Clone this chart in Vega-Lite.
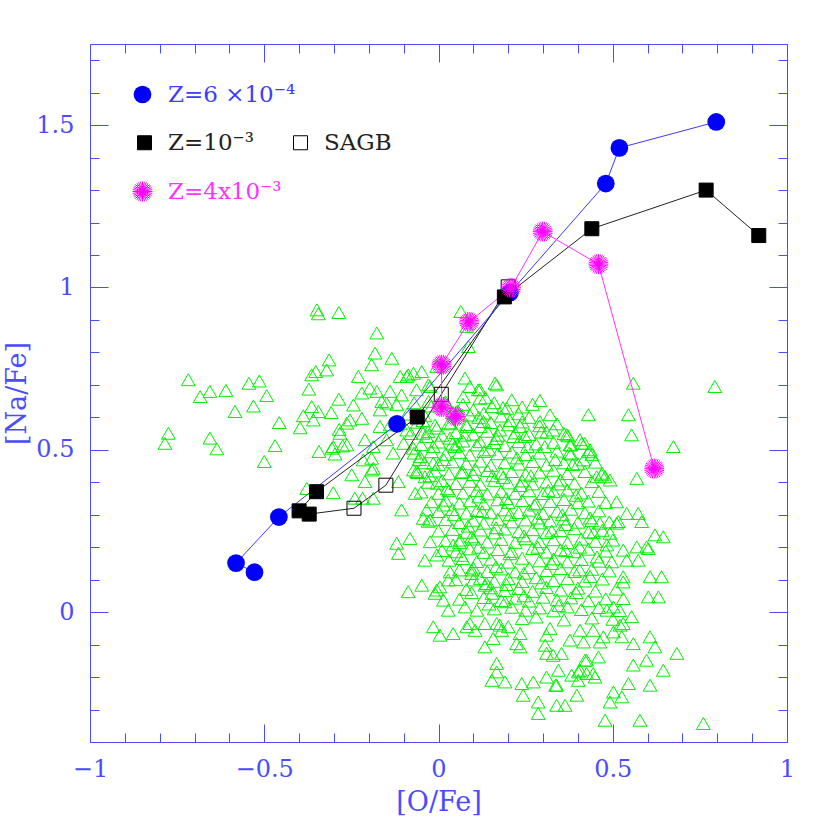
{
"$schema": "https://vega.github.io/schema/vega-lite/v6.json",
"width": 697, "height": 698,
"autosize": {"type": "none"},
"padding": {"left": 90, "top": 44, "right": 43, "bottom": 88},
"background": "white",
"config": {
 "view": {"stroke": null},
 "axis": {"grid": false, "domainColor": "#4b4bff", "tickColor": "#4b4bff", "labelColor": "#4b4bff", "titleColor": "#4b4bff", "labelFont": "DejaVu Serif", "titleFont": "DejaVu Serif", "labelFontSize": 24, "titleFontSize": 27, "titleFontWeight": "normal", "labelFontWeight": "normal", "tickWidth": 1, "domainWidth": 1, "labelFlush": false, "labelOverlap": false}
},
"datasets": {
"obs": [
{"x":-0.349,"y":0.931},{"x":-0.345,"y":0.919},{"x":-0.286,"y":0.923},{"x":-0.314,"y":0.777},{"x":-0.321,"y":0.746},{"x":-0.352,"y":0.741},{"x":-0.364,"y":0.731},{"x":-0.718,"y":0.716},{"x":-0.656,"y":0.68},{"x":-0.684,"y":0.664},{"x":-0.61,"y":0.683},{"x":-0.544,"y":0.705},{"x":-0.514,"y":0.712},{"x":-0.493,"y":0.667},{"x":-0.531,"y":0.635},{"x":-0.584,"y":0.618},{"x":-0.372,"y":0.687},{"x":-0.286,"y":0.656},{"x":-0.364,"y":0.633},{"x":-0.345,"y":0.618},{"x":-0.388,"y":0.605},{"x":-0.359,"y":0.592},{"x":-0.308,"y":0.615},{"x":-0.457,"y":0.584},{"x":-0.397,"y":0.568},{"x":-0.285,"y":0.563},{"x":-0.263,"y":0.582},{"x":-0.775,"y":0.551},{"x":-0.785,"y":0.52},{"x":-0.656,"y":0.536},{"x":-0.636,"y":0.503},{"x":-0.469,"y":0.513},{"x":-0.5,"y":0.464},{"x":-0.343,"y":0.495},{"x":-0.306,"y":0.505},{"x":-0.297,"y":0.487},{"x":-0.275,"y":0.512},
{"x":-0.378,"y":0.381},{"x":-0.302,"y":0.368},{"x":-0.24,"y":0.351},{"x":-0.218,"y":0.351},{"x":-0.249,"y":0.423},{"x":-0.211,"y":0.402},{"x":-0.187,"y":0.443},{"x":-0.177,"y":0.86},{"x":-0.182,"y":0.798},{"x":-0.134,"y":0.782},{"x":-0.192,"y":0.762},{"x":-0.23,"y":0.726},{"x":-0.197,"y":0.69},{"x":-0.177,"y":0.68},{"x":-0.22,"y":0.675},{"x":-0.139,"y":0.68},{"x":-0.106,"y":0.669},{"x":-0.091,"y":0.726},{"x":-0.048,"y":0.741},{"x":-0.244,"y":0.638},{"x":-0.254,"y":0.592},{"x":-0.22,"y":0.597},{"x":-0.168,"y":0.572},{"x":-0.139,"y":0.577},{"x":-0.283,"y":0.551},{"x":-0.302,"y":0.51},{"x":-0.263,"y":0.515},{"x":-0.211,"y":0.531},{"x":-0.187,"y":0.51},{"x":-0.149,"y":0.531},{"x":-0.216,"y":0.469},{"x":-0.192,"y":0.474},{"x":-0.13,"y":0.49},{"x":-0.067,"y":0.366},{"x":-0.106,"y":0.315},{"x":-0.034,"y":0.315},{"x":-0.024,"y":0.284},{"x":-0.12,"y":0.212},{"x":-0.082,"y":0.227},{"x":-0.115,"y":0.181},{"x":-0.024,"y":0.217},{"x":-0.039,"y":0.16},{"x":-0.087,"y":0.063},{"x":-0.048,"y":0.083},{"x":-0.01,"y":0.058},{"x":-0.072,"y":0.438},{"x":-0.053,"y":0.479},{"x":-0.015,"y":0.459},{"x":-0.039,"y":0.417},{"x":-0.005,"y":0.397},{"x":-0.091,"y":0.561},{"x":-0.034,"y":0.541},{"x":-0.072,"y":0.505},{"x":-0.168,"y":0.623},{"x":-0.149,"y":0.644},{"x":-0.11,"y":0.726},{"x":-0.072,"y":0.736},{"x":-0.029,"y":0.7},{"x":-0.005,"y":0.757},
{"x":0.064,"y":0.926},{"x":0.081,"y":0.88},{"x":0.086,"y":0.818},{"x":-0.087,"y":0.731},{"x":0.076,"y":0.721},{"x":0.162,"y":0.705},{"x":0.119,"y":0.685},{"x":0.21,"y":0.654},{"x":-0.024,"y":0.695},{"x":-0.063,"y":0.685},{"x":-0.163,"y":0.649},{"x":-0.029,"y":0.649},{"x":0.071,"y":0.664},{"x":0.119,"y":0.659},{"x":0.153,"y":0.633},{"x":0.196,"y":0.628},{"x":0.234,"y":0.572},{"x":0.1,"y":0.623},{"x":0.129,"y":0.587},{"x":0.176,"y":0.561},{"x":0.081,"y":0.572},{"x":-0.005,"y":0.567},{"x":-0.044,"y":0.551},{"x":0.033,"y":0.536},{"x":0.119,"y":0.525},{"x":0.215,"y":0.541},{"x":0.248,"y":0.541},{"x":0.047,"y":0.51},
{"x":0.793,"y":0.695},{"x":0.559,"y":0.705},{"x":0.545,"y":0.608},{"x":0.554,"y":0.546},{"x":0.674,"y":0.51},{"x":0.569,"y":0.412},{"x":0.43,"y":0.608},{"x":0.291,"y":0.652},{"x":0.167,"y":0.7},{"x":0.09,"y":0.695},{"x":0.114,"y":0.685},{"x":0.368,"y":0.546},{"x":0.406,"y":0.531},{"x":0.435,"y":0.5},{"x":0.492,"y":0.407},{"x":0.468,"y":0.423},{"x":0.54,"y":0.304},{"x":0.573,"y":0.304},{"x":0.583,"y":0.279},{"x":0.511,"y":0.274},{"x":0.621,"y":0.238},{"x":0.645,"y":0.232},{"x":0.602,"y":0.196},{"x":0.573,"y":0.16},{"x":0.54,"y":0.16},{"x":0.497,"y":0.155},{"x":0.607,"y":0.109},{"x":0.64,"y":0.109},{"x":0.53,"y":0.109},{"x":0.602,"y":0.047},{"x":0.631,"y":0.047},{"x":0.53,"y":0.042},{"x":0.554,"y":-0.014},{"x":0.521,"y":-0.04},{"x":0.607,"y":-0.076},{"x":0.621,"y":-0.107},{"x":0.684,"y":-0.127},{"x":0.559,"y":-0.097},{"x":0.597,"y":-0.148},{"x":0.645,"y":-0.179},{"x":0.559,"y":-0.163},{"x":0.607,"y":-0.225},{"x":0.545,"y":-0.22},{"x":0.502,"y":-0.246},{"x":0.526,"y":-0.261},{"x":0.492,"y":-0.277},{"x":0.578,"y":-0.333},{"x":0.478,"y":-0.333},{"x":0.76,"y":-0.343},{"x":0.397,"y":-0.256},{"x":0.339,"y":-0.287},{"x":0.363,"y":-0.287},{"x":0.286,"y":-0.312},{"x":0.286,"y":-0.277},{"x":0.339,"y":-0.225},{"x":0.243,"y":-0.256},{"x":0.239,"y":-0.22},{"x":0.272,"y":-0.215},{"x":0.191,"y":-0.215},{"x":0.153,"y":-0.21},{"x":0.167,"y":-0.158},{"x":0.31,"y":-0.2},{"x":0.344,"y":-0.179},{"x":0.401,"y":-0.184},{"x":0.425,"y":-0.189},{"x":0.444,"y":-0.189},{"x":0.133,"y":-0.107},{"x":0.234,"y":-0.107},{"x":0.31,"y":-0.127},{"x":0.353,"y":-0.127},{"x":0.42,"y":-0.148},{"x":0.459,"y":-0.138},{"x":0.473,"y":-0.076},{"x":-0.015,"y":-0.045},{"x":0.004,"y":-0.071},{"x":0.042,"y":-0.066},{"x":0.081,"y":-0.045},{"x":0.105,"y":-0.056},{"x":0.176,"y":-0.04},{"x":0.2,"y":-0.045},{"x":0.028,"y":0.006},{"x":0.076,"y":0.016},{"x":0.11,"y":0.006},{"x":-0.005,"y":0.068},{"x":0.028,"y":0.099},{"x":0.095,"y":0.119},{"x":0.133,"y":0.083},{"x":0.153,"y":0.058},{"x":0.191,"y":0.032},{"x":-0.005,"y":0.176},{"x":0.042,"y":0.207},
{"x":0.224,"y":-0.097},{"x":0.306,"y":-0.102},{"x":0.329,"y":-0.133},{"x":0.167,"y":-0.184},{"x":0.336,"y":-0.225},{"x":0.382,"y":-0.194},{"x":0.406,"y":-0.179},{"x":0.449,"y":-0.2},{"x":0.401,"y":-0.21},{"x":0.014,"y":0.037},{"x":0.09,"y":-0.035},{"x":0.133,"y":-0.035},{"x":0.167,"y":-0.035},{"x":0.157,"y":-0.081},{"x":0.181,"y":-0.056},{"x":0.234,"y":-0.066},{"x":0.31,"y":-0.071},{"x":0.32,"y":-0.05},{"x":0.377,"y":-0.086},{"x":0.416,"y":-0.092},{"x":0.406,"y":-0.056},{"x":0.444,"y":-0.056},{"x":0.463,"y":-0.092},{"x":0.425,"y":-0.148},{"x":0.53,"y":-0.035},{"x":0.526,"y":-0.076},{"x":0.502,"y":-0.061},{"x":0.502,"y":0.016},{"x":0.483,"y":0.006},{"x":0.53,"y":0.093},
{"x":-0.192,"y":0.438},{"x":-0.187,"y":0.351},{"x":-0.115,"y":0.402},{"x":0.062,"y":0.222},{"x":0.095,"y":0.232},{"x":-0.044,"y":0.289},{"x":-0.063,"y":0.433},{"x":0.004,"y":0.078},{"x":0.033,"y":0.124},{"x":0.095,"y":0.13},{"x":0.1,"y":0.099},{"x":0.138,"y":0.088},
{"x":0.372,"y":0.543},{"x":0.411,"y":0.52},{"x":0.43,"y":0.494},{"x":0.291,"y":0.587},{"x":0.478,"y":0.417},{"x":0.454,"y":0.417},{"x":0.511,"y":0.34},{"x":0.516,"y":0.279},{"x":0.597,"y":0.201},{"x":0.569,"y":0.201},{"x":0.483,"y":0.207},{"x":0.492,"y":0.243},{"x":0.463,"y":0.274},{"x":0.329,"y":0.561},{"x":0.377,"y":0.515},{"x":0.416,"y":0.469},
{"x":-0.12,"y":0.64},{"x":-0.07,"y":0.645},{"x":-0.02,"y":0.635},{"x":0.02,"y":0.648},{"x":0.07,"y":0.64},{"x":0.16,"y":0.645},{"x":0.24,"y":0.632},{"x":0.27,"y":0.64},
{"x":-0.09,"y":0.61},{"x":-0.04,"y":0.605},{"x":0.04,"y":0.615},{"x":0.09,"y":0.607},{"x":0.13,"y":0.613},{"x":0.18,"y":0.604},{"x":0.23,"y":0.611},{"x":0.26,"y":0.6},{"x":0.32,"y":0.608},
{"x":-0.11,"y":0.58},{"x":-0.06,"y":0.585},{"x":-0.01,"y":0.576},{"x":0.03,"y":0.583},{"x":0.08,"y":0.578},{"x":0.12,"y":0.572},{"x":0.15,"y":0.584},{"x":0.2,"y":0.577},{"x":0.24,"y":0.586},{"x":0.29,"y":0.574},{"x":0.34,"y":0.58},
{"x":-0.08,"y":0.55},{"x":-0.03,"y":0.556},{"x":0.01,"y":0.545},{"x":0.05,"y":0.553},{"x":0.1,"y":0.548},{"x":0.14,"y":0.557},{"x":0.17,"y":0.545},{"x":0.22,"y":0.552},{"x":0.26,"y":0.547},{"x":0.31,"y":0.554},{"x":0.36,"y":0.55},
{"x":-0.1,"y":0.52},{"x":-0.05,"y":0.516},{"x":0.0,"y":0.524},{"x":0.04,"y":0.518},{"x":0.07,"y":0.527},{"x":0.11,"y":0.515},{"x":0.16,"y":0.522},{"x":0.19,"y":0.513},{"x":0.23,"y":0.525},{"x":0.28,"y":0.518},{"x":0.33,"y":0.523},{"x":0.38,"y":0.515},{"x":0.42,"y":0.52},
{"x":-0.07,"y":0.49},{"x":-0.02,"y":0.494},{"x":0.02,"y":0.486},{"x":0.06,"y":0.492},{"x":0.09,"y":0.484},{"x":0.13,"y":0.495},{"x":0.17,"y":0.488},{"x":0.21,"y":0.493},{"x":0.25,"y":0.485},{"x":0.29,"y":0.49},{"x":0.34,"y":0.496},{"x":0.38,"y":0.487},{"x":0.44,"y":0.485},
{"x":-0.04,"y":0.46},{"x":0.0,"y":0.455},{"x":0.04,"y":0.463},{"x":0.08,"y":0.457},{"x":0.12,"y":0.465},{"x":0.15,"y":0.452},{"x":0.19,"y":0.46},{"x":0.23,"y":0.456},{"x":0.27,"y":0.464},{"x":0.31,"y":0.453},{"x":0.36,"y":0.46},{"x":0.4,"y":0.457},{"x":0.45,"y":0.462},
{"x":-0.06,"y":0.43},{"x":-0.01,"y":0.435},{"x":0.03,"y":0.426},{"x":0.07,"y":0.432},{"x":0.1,"y":0.424},{"x":0.14,"y":0.436},{"x":0.18,"y":0.428},{"x":0.21,"y":0.433},{"x":0.25,"y":0.425},{"x":0.29,"y":0.431},{"x":0.33,"y":0.437},{"x":0.37,"y":0.427},{"x":0.42,"y":0.433},{"x":0.47,"y":0.428},
{"x":-0.03,"y":0.4},{"x":0.01,"y":0.405},{"x":0.05,"y":0.396},{"x":0.09,"y":0.403},{"x":0.12,"y":0.394},{"x":0.16,"y":0.406},{"x":0.2,"y":0.398},{"x":0.24,"y":0.404},{"x":0.27,"y":0.395},{"x":0.31,"y":0.401},{"x":0.35,"y":0.407},{"x":0.39,"y":0.397},{"x":0.44,"y":0.402},
{"x":-0.05,"y":0.37},{"x":0.0,"y":0.366},{"x":0.03,"y":0.374},{"x":0.07,"y":0.367},{"x":0.11,"y":0.375},{"x":0.14,"y":0.364},{"x":0.18,"y":0.372},{"x":0.22,"y":0.366},{"x":0.26,"y":0.374},{"x":0.3,"y":0.365},{"x":0.33,"y":0.371},{"x":0.37,"y":0.376},{"x":0.41,"y":0.367},{"x":0.46,"y":0.372},
{"x":-0.02,"y":0.34},{"x":0.02,"y":0.345},{"x":0.06,"y":0.336},{"x":0.09,"y":0.343},{"x":0.13,"y":0.334},{"x":0.17,"y":0.346},{"x":0.2,"y":0.338},{"x":0.24,"y":0.344},{"x":0.28,"y":0.335},{"x":0.32,"y":0.341},{"x":0.36,"y":0.347},{"x":0.4,"y":0.337},{"x":0.43,"y":0.342},{"x":0.48,"y":0.338},
{"x":0.0,"y":0.31},{"x":0.04,"y":0.316},{"x":0.08,"y":0.305},{"x":0.11,"y":0.313},{"x":0.15,"y":0.306},{"x":0.19,"y":0.315},{"x":0.23,"y":0.307},{"x":0.26,"y":0.314},{"x":0.3,"y":0.304},{"x":0.34,"y":0.311},{"x":0.38,"y":0.317},{"x":0.42,"y":0.306},{"x":0.46,"y":0.312},
{"x":-0.03,"y":0.28},{"x":0.02,"y":0.285},{"x":0.06,"y":0.276},{"x":0.1,"y":0.283},{"x":0.13,"y":0.274},{"x":0.17,"y":0.286},{"x":0.21,"y":0.278},{"x":0.25,"y":0.284},{"x":0.29,"y":0.275},{"x":0.32,"y":0.281},{"x":0.36,"y":0.287},{"x":0.4,"y":0.277},{"x":0.44,"y":0.282},{"x":0.49,"y":0.278},
{"x":0.0,"y":0.25},{"x":0.04,"y":0.255},{"x":0.08,"y":0.246},{"x":0.12,"y":0.253},{"x":0.16,"y":0.244},{"x":0.19,"y":0.256},{"x":0.23,"y":0.248},{"x":0.27,"y":0.254},{"x":0.31,"y":0.245},{"x":0.35,"y":0.251},{"x":0.39,"y":0.257},{"x":0.43,"y":0.247},{"x":0.47,"y":0.252},
{"x":0.02,"y":0.22},{"x":0.06,"y":0.214},{"x":0.1,"y":0.225},{"x":0.14,"y":0.216},{"x":0.18,"y":0.224},{"x":0.22,"y":0.215},{"x":0.25,"y":0.226},{"x":0.29,"y":0.217},{"x":0.33,"y":0.223},{"x":0.37,"y":0.214},{"x":0.41,"y":0.225},{"x":0.45,"y":0.218},{"x":0.5,"y":0.222},
{"x":0.01,"y":0.19},{"x":0.05,"y":0.186},{"x":0.09,"y":0.195},{"x":0.13,"y":0.184},{"x":0.17,"y":0.193},{"x":0.21,"y":0.187},{"x":0.27,"y":0.196},{"x":0.31,"y":0.185},{"x":0.35,"y":0.192},{"x":0.39,"y":0.186},{"x":0.43,"y":0.194},{"x":0.48,"y":0.188},{"x":0.53,"y":0.191},
{"x":0.03,"y":0.16},{"x":0.07,"y":0.165},{"x":0.11,"y":0.156},{"x":0.15,"y":0.163},{"x":0.2,"y":0.154},{"x":0.24,"y":0.166},{"x":0.29,"y":0.158},{"x":0.33,"y":0.164},{"x":0.37,"y":0.155},{"x":0.41,"y":0.162},{"x":0.46,"y":0.157},
{"x":0.06,"y":0.13},{"x":0.1,"y":0.136},{"x":0.14,"y":0.125},{"x":0.18,"y":0.133},{"x":0.22,"y":0.124},{"x":0.26,"y":0.137},{"x":0.31,"y":0.128},{"x":0.35,"y":0.134},{"x":0.39,"y":0.125},{"x":0.44,"y":0.132},{"x":0.49,"y":0.127},
{"x":0.05,"y":0.1},{"x":0.12,"y":0.104},{"x":0.16,"y":0.095},{"x":0.2,"y":0.103},{"x":0.24,"y":0.094},{"x":0.28,"y":0.106},{"x":0.33,"y":0.097},{"x":0.37,"y":0.103},{"x":0.42,"y":0.096},{"x":0.47,"y":0.102},
{"x":0.08,"y":0.07},{"x":0.15,"y":0.075},{"x":0.19,"y":0.066},{"x":0.23,"y":0.073},{"x":0.27,"y":0.064},{"x":0.31,"y":0.076},{"x":0.35,"y":0.068},{"x":0.4,"y":0.074},{"x":0.45,"y":0.065},{"x":0.51,"y":0.071},
{"x":0.06,"y":0.04},{"x":0.13,"y":0.045},{"x":0.18,"y":0.036},{"x":0.22,"y":0.043},{"x":0.26,"y":0.034},{"x":0.3,"y":0.046},{"x":0.34,"y":0.038},{"x":0.38,"y":0.044},{"x":0.43,"y":0.035},{"x":0.48,"y":0.041},
{"x":0.16,"y":0.01},{"x":0.21,"y":0.015},{"x":0.25,"y":0.006},{"x":0.29,"y":0.013},{"x":0.33,"y":0.004},{"x":0.37,"y":0.016},{"x":0.41,"y":0.008},{"x":0.46,"y":0.014},{"x":0.52,"y":0.005},
{"x":0.24,"y":-0.02},{"x":0.28,"y":-0.015},{"x":0.36,"y":-0.024},{"x":0.44,"y":-0.018},{"x":0.5,"y":-0.022},
{"x":0.015,"y":0.47},{"x":0.055,"y":0.515},{"x":0.105,"y":0.44},{"x":0.145,"y":0.5},{"x":0.185,"y":0.415},{"x":0.225,"y":0.475},{"x":0.265,"y":0.42},{"x":0.305,"y":0.51},{"x":0.345,"y":0.395},{"x":0.385,"y":0.455},
{"x":0.025,"y":0.38},{"x":0.065,"y":0.43},{"x":0.115,"y":0.355},{"x":0.155,"y":0.42},{"x":0.195,"y":0.35},{"x":0.235,"y":0.39},{"x":0.275,"y":0.33},{"x":0.315,"y":0.375},{"x":0.355,"y":0.3},{"x":0.395,"y":0.36},{"x":0.435,"y":0.29},
{"x":0.045,"y":0.3},{"x":0.085,"y":0.265},{"x":0.125,"y":0.31},{"x":0.165,"y":0.26},{"x":0.205,"y":0.3},{"x":0.245,"y":0.235},{"x":0.285,"y":0.29},{"x":0.325,"y":0.25},{"x":0.365,"y":0.27},{"x":0.405,"y":0.2},{"x":0.445,"y":0.245},
{"x":0.035,"y":0.58},{"x":0.075,"y":0.545},{"x":0.115,"y":0.6},{"x":0.165,"y":0.535},{"x":0.205,"y":0.59},{"x":0.255,"y":0.51},{"x":0.295,"y":0.555},{"x":0.335,"y":0.47},{"x":0.375,"y":0.49},
{"x":0.065,"y":0.175},{"x":0.115,"y":0.2},{"x":0.165,"y":0.14},{"x":0.205,"y":0.18},{"x":0.245,"y":0.12},{"x":0.285,"y":0.2},{"x":0.325,"y":0.15},{"x":0.365,"y":0.19},{"x":0.405,"y":0.13},{"x":0.455,"y":0.17},
{"x":0.095,"y":0.06},{"x":0.145,"y":0.025},{"x":0.195,"y":0.085},{"x":0.245,"y":0.05},{"x":0.295,"y":0.09},{"x":0.345,"y":0.02},{"x":0.395,"y":0.06},{"x":0.435,"y":0.11},
{"x":-0.015,"y":0.51},{"x":-0.055,"y":0.47},{"x":-0.025,"y":0.42},{"x":0.015,"y":0.33},{"x":-0.045,"y":0.59},{"x":0.055,"y":0.62},{"x":0.135,"y":0.66},{"x":0.185,"y":0.63}
],
"models": [
{"s":"Z=6 ×10⁻⁴","g":"b","i":1,"x":-0.528,"y":0.123},{"s":"Z=6 ×10⁻⁴","g":"b","i":2,"x":-0.581,"y":0.151},{"s":"Z=6 ×10⁻⁴","g":"b","i":3,"x":-0.458,"y":0.293},{"s":"Z=6 ×10⁻⁴","g":"b","i":4,"x":-0.119,"y":0.58},{"s":"Z=6 ×10⁻⁴","g":"b","i":5,"x":0.205,"y":0.984},{"s":"Z=6 ×10⁻⁴","g":"b","i":6,"x":0.48,"y":1.32},{"s":"Z=6 ×10⁻⁴","g":"b","i":7,"x":0.519,"y":1.43},{"s":"Z=6 ×10⁻⁴","g":"b","i":8,"x":0.797,"y":1.51},
{"s":"Z=10⁻³","g":"k","i":1,"x":-0.371,"y":0.302},{"s":"Z=10⁻³","g":"k","i":2,"x":-0.4,"y":0.312},{"s":"Z=10⁻³","g":"k","i":3,"x":-0.35,"y":0.371},{"s":"Z=10⁻³","g":"k","i":4,"x":-0.061,"y":0.601},{"s":"Z=10⁻³","g":"k","i":5,"x":0.189,"y":0.971},{"s":"Z=10⁻³","g":"k","i":6,"x":0.44,"y":1.181},{"s":"Z=10⁻³","g":"k","i":7,"x":0.768,"y":1.3},{"s":"Z=10⁻³","g":"k","i":8,"x":0.919,"y":1.16},
{"s":"link","g":"sagb","i":0,"x":-0.371,"y":0.302},{"s":"SAGB","g":"sagb","i":1,"x":-0.2425,"y":0.32},{"s":"SAGB","g":"sagb","i":2,"x":-0.151,"y":0.391},{"s":"SAGB","g":"sagb","i":3,"x":0.008,"y":0.671},{"s":"SAGB","g":"sagb","i":4,"x":0.2,"y":1.002},
{"s":"Z=4x10⁻³","g":"m","i":1,"x":0.049,"y":0.603},{"s":"Z=4x10⁻³","g":"m","i":2,"x":0.009,"y":0.632},{"s":"Z=4x10⁻³","g":"m","i":3,"x":0.009,"y":0.762},{"s":"Z=4x10⁻³","g":"m","i":4,"x":0.088,"y":0.894},{"s":"Z=4x10⁻³","g":"m","i":5,"x":0.208,"y":0.999},{"s":"Z=4x10⁻³","g":"m","i":6,"x":0.299,"y":1.172},{"s":"Z=4x10⁻³","g":"m","i":7,"x":0.459,"y":1.072},{"s":"Z=4x10⁻³","g":"m","i":8,"x":0.619,"y":0.442}
]
},
"layer": [
{"data": {"name": "obs"},
 "mark": {"type": "point", "shape": "triangle-up", "filled": false, "stroke": "#00f000", "strokeWidth": 1, "size": 190, "opacity": 1},
 "encoding": {
  "x": {"field": "x", "type": "quantitative", "scale": {"domain": [-1, 1], "nice": false, "zero": false}, "axis": {"orient": "bottom", "values": [-1, -0.5, 0, 0.5, 1], "tickSize": -18, "labelPadding": 33, "labelExpr": "datum.value < 0 ? '−' + format(-datum.value, '~g') : format(datum.value, '~g')", "title": "[O/Fe]", "titlePadding": 8}},
  "y": {"field": "y", "type": "quantitative", "scale": {"domain": [-0.4, 1.75], "nice": false, "zero": false}, "axis": {"orient": "left", "values": [0, 0.5, 1, 1.5], "tickSize": -18, "labelPadding": 34, "labelExpr": "datum.value < 0 ? '−' + format(-datum.value, '~g') : format(datum.value, '~g')", "title": "[Na/Fe]", "titlePadding": 4}}
 }},
{"data": {"name": "models"},
 "transform": [{"filter": "datum.g === 'k' || datum.g === 'sagb'"}],
 "mark": {"type": "line", "color": "#222222", "strokeWidth": 1},
 "encoding": {
  "x": {"field": "x", "type": "quantitative", "scale": {"domain": [-1, 1], "nice": false, "zero": false}, "axis": {"orient": "bottom", "values": [-0.9, -0.8, -0.7, -0.6, -0.4, -0.3, -0.2, -0.1, 0.1, 0.2, 0.3, 0.4, 0.6, 0.7, 0.8, 0.9], "tickSize": -9, "labels": false, "domain": false, "title": null}},
  "y": {"field": "y", "type": "quantitative", "scale": {"domain": [-0.4, 1.75], "nice": false, "zero": false}, "axis": {"orient": "left", "values": [-0.3, -0.2, -0.1, 0.1, 0.2, 0.3, 0.4, 0.6, 0.7, 0.8, 0.9, 1.1, 1.2, 1.3, 1.4, 1.6, 1.7], "tickSize": -9, "labels": false, "domain": false, "title": null}},
  "detail": {"field": "g"},
  "order": {"field": "i", "type": "quantitative"}
 }},
{"data": {"name": "models"},
 "transform": [{"filter": "datum.g === 'b'"}],
 "mark": {"type": "line", "color": "#3a3aff", "strokeWidth": 1},
 "encoding": {
  "x": {"field": "x", "type": "quantitative", "scale": {"domain": [-1, 1], "nice": false, "zero": false}, "axis": {"orient": "top", "values": [-1, -0.5, 0, 0.5, 1], "tickSize": -18, "labels": false, "title": null}},
  "y": {"field": "y", "type": "quantitative", "scale": {"domain": [-0.4, 1.75], "nice": false, "zero": false}, "axis": {"orient": "right", "values": [0, 0.5, 1, 1.5], "tickSize": -18, "labels": false, "title": null}},
  "order": {"field": "i", "type": "quantitative"}
 }},
{"data": {"name": "models"},
 "transform": [{"filter": "datum.g === 'm'"}],
 "mark": {"type": "line", "color": "#ff33ff", "strokeWidth": 1},
 "encoding": {
  "x": {"field": "x", "type": "quantitative", "scale": {"domain": [-1, 1], "nice": false, "zero": false}, "axis": {"orient": "top", "values": [-0.9, -0.8, -0.7, -0.6, -0.4, -0.3, -0.2, -0.1, 0.1, 0.2, 0.3, 0.4, 0.6, 0.7, 0.8, 0.9], "tickSize": -9, "labels": false, "domain": false, "title": null}},
  "y": {"field": "y", "type": "quantitative", "scale": {"domain": [-0.4, 1.75], "nice": false, "zero": false}, "axis": {"orient": "right", "values": [-0.3, -0.2, -0.1, 0.1, 0.2, 0.3, 0.4, 0.6, 0.7, 0.8, 0.9, 1.1, 1.2, 1.3, 1.4, 1.6, 1.7], "tickSize": -9, "labels": false, "domain": false, "title": null}},
  "order": {"field": "i", "type": "quantitative"}
 }},
{"data": {"name": "models"},
 "transform": [{"filter": "datum.g === 'b'"}],
 "mark": {"type": "point", "shape": "circle", "filled": true, "size": 314, "opacity": 1},
 "encoding": {
  "x": {"field": "x", "type": "quantitative", "axis": null},
  "y": {"field": "y", "type": "quantitative", "axis": null},
  "color": {"field": "s", "type": "nominal", "scale": {"domain": ["Z=6 ×10⁻⁴"], "range": ["#0000ff"]}, "legend": {"title": null, "orient": "none", "legendX": 41, "legendY": 39, "padding": 0, "symbolType": "circle", "symbolSize": 314, "labelColor": "#3c3cff", "labelFont": "DejaVu Serif", "labelFontSize": 23, "labelOffset": 14}}
 }},
{"data": {"name": "models"},
 "transform": [{"filter": "datum.s === 'Z=10⁻³' || datum.s === 'SAGB'"}],
 "mark": {"type": "point", "shape": "square", "filled": true, "stroke": "#000000", "strokeWidth": 1, "size": 196, "opacity": 1},
 "encoding": {
  "x": {"field": "x", "type": "quantitative", "axis": null},
  "y": {"field": "y", "type": "quantitative", "axis": null},
  "fill": {"field": "s", "type": "nominal", "scale": {"domain": ["Z=10⁻³", "SAGB"], "range": ["#000000", "transparent"]}, "legend": {"title": null, "orient": "none", "legendX": 43, "legendY": 87, "padding": 0, "direction": "horizontal", "columns": 2, "columnPadding": 35, "symbolType": "square", "symbolSize": 196, "symbolStrokeColor": "#000000", "symbolStrokeWidth": 1, "labelColor": "#222222", "labelFont": "DejaVu Serif", "labelFontSize": 23, "labelOffset": 12}}
 }},
{"data": {"name": "models"},
 "transform": [{"filter": "datum.g === 'm'"}],
 "mark": {"type": "point", "shape": "M1,0L-1,0M0.981,0.195L-0.981,-0.195M0.924,0.383L-0.924,-0.383M0.831,0.556L-0.831,-0.556M0.707,0.707L-0.707,-0.707M0.556,0.831L-0.556,-0.831M0.383,0.924L-0.383,-0.924M0.195,0.981L-0.195,-0.981M0,1L0,-1M-0.195,0.981L0.195,-0.981M-0.383,0.924L0.383,-0.924M-0.556,0.831L0.556,-0.831M-0.707,0.707L0.707,-0.707M-0.831,0.556L0.831,-0.556M-0.924,0.383L0.924,-0.383M-0.981,0.195L0.981,-0.195", "filled": false, "strokeWidth": 1, "size": 400, "opacity": 1},
 "encoding": {
  "x": {"field": "x", "type": "quantitative", "axis": null},
  "y": {"field": "y", "type": "quantitative", "axis": null},
  "color": {"field": "s", "type": "nominal", "scale": {"domain": ["Z=4x10⁻³"], "range": ["#ff00ff"]}, "legend": {"title": null, "orient": "none", "legendX": 41, "legendY": 136, "padding": 0, "symbolType": "M1,0L-1,0M0.981,0.195L-0.981,-0.195M0.924,0.383L-0.924,-0.383M0.831,0.556L-0.831,-0.556M0.707,0.707L-0.707,-0.707M0.556,0.831L-0.556,-0.831M0.383,0.924L-0.383,-0.924M0.195,0.981L-0.195,-0.981M0,1L0,-1M-0.195,0.981L0.195,-0.981M-0.383,0.924L0.383,-0.924M-0.556,0.831L0.556,-0.831M-0.707,0.707L0.707,-0.707M-0.831,0.556L0.831,-0.556M-0.924,0.383L0.924,-0.383M-0.981,0.195L0.981,-0.195", "symbolSize": 400, "symbolStrokeWidth": 1, "labelColor": "#ff33ff", "labelFont": "DejaVu Serif", "labelFontSize": 23, "labelOffset": 14}}
 }}
],
"resolve": {"axis": {"x": "independent", "y": "independent"}, "scale": {"color": "independent"}, "legend": {"color": "independent"}}
}
